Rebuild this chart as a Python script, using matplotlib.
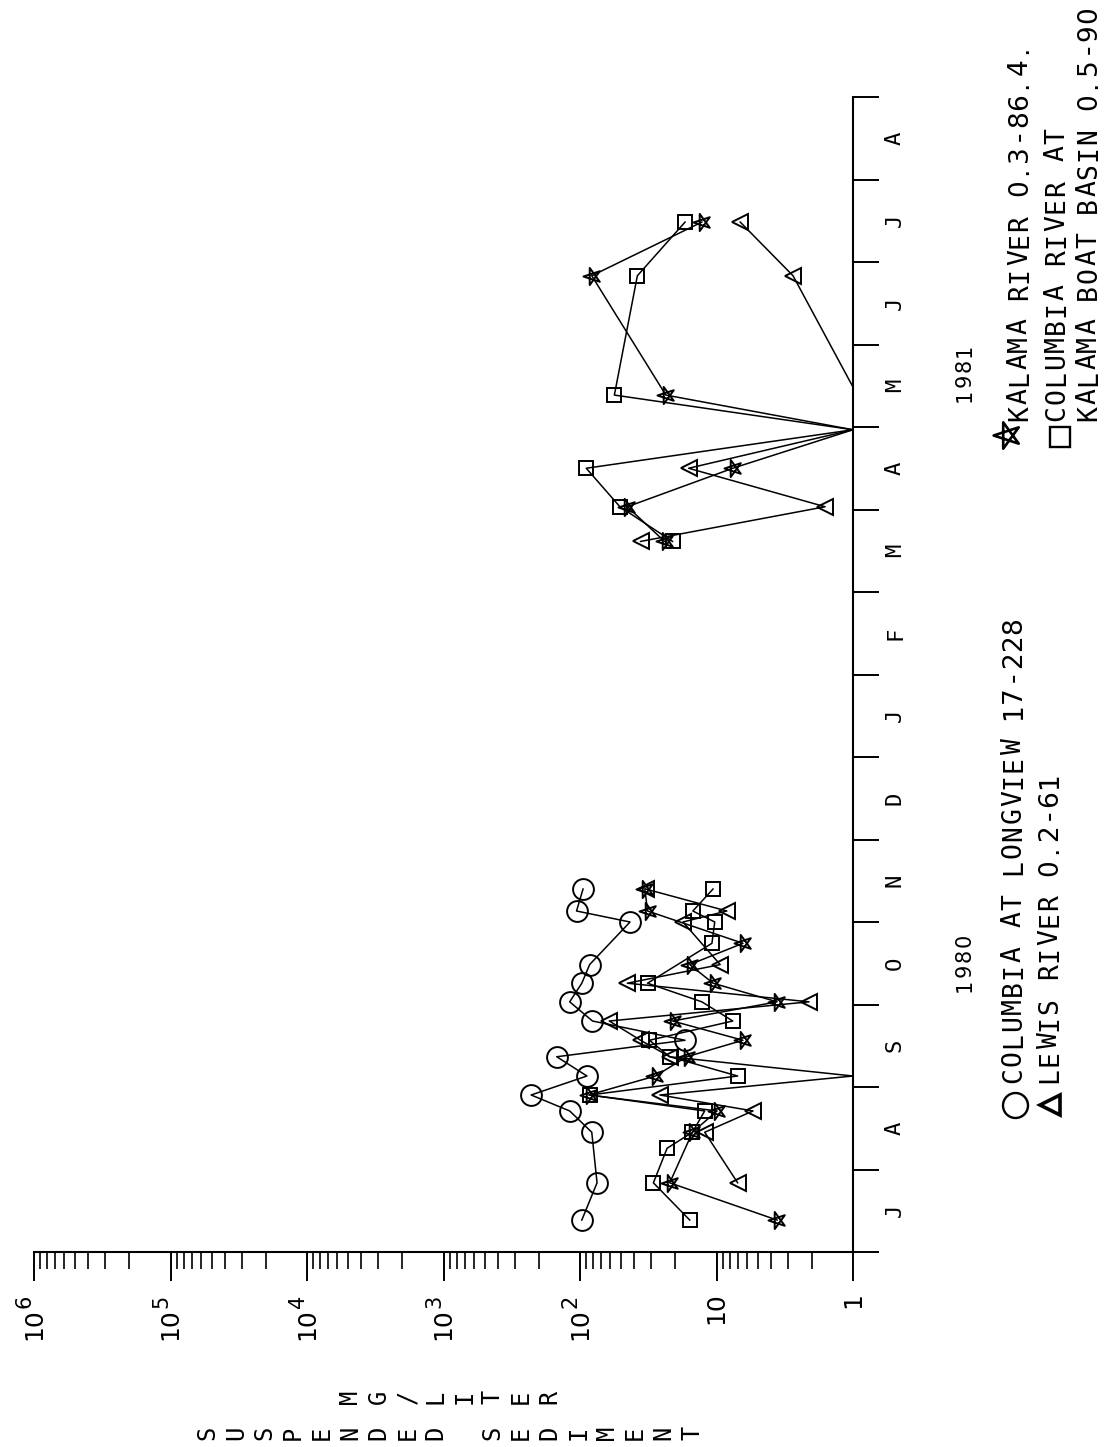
import numpy as np
import pandas as pd
import matplotlib
matplotlib.use("Agg")
import matplotlib.pyplot as plt
import matplotlib.ticker as mticker
from matplotlib import transforms
from matplotlib.path import Path
from matplotlib.lines import Line2D

# ---------------- data (suspended sediment, mg/L) ----------------
longview_dates = ["1980-07-13", "1980-07-27", "1980-08-15", "1980-08-23", "1980-08-29",
                  "1980-09-05", "1980-09-12", "1980-09-18", "1980-09-25", "1980-10-02",
                  "1980-10-09", "1980-10-16", "1980-11-01", "1980-11-05", "1980-11-13"]
longview_vals = [97, 75, 82, 119, 228, 89, 148, 17, 81, 119, 97, 85, 43, 106, 95]

lewis_dates = ["1980-07-27", "1980-08-15", "1980-08-23", "1980-08-29", "1980-09-05",
               "1980-09-12", "1980-09-18", "1980-09-25", "1980-10-02", "1980-10-09",
               "1980-10-16", "1980-11-01", "1980-11-05", "1980-11-13",
               "1981-03-20", "1981-04-02", "1981-04-16", "1981-04-30", "1981-05-16",
               "1981-06-26", "1981-07-16"]
lewis_vals = [7.0, 12.2, 5.4, 26, 0.2, 22, 36, 61, 2.1, 45, 9.4, 17.6, 8.4, 33,
              36, 1.6, 16, 0.2, 0.5, 2.75, 6.7]

kalama_dates = ["1980-07-13", "1980-07-27", "1980-08-15", "1980-08-23", "1980-08-29",
                "1980-09-05", "1980-09-12", "1980-09-18", "1980-09-25", "1980-10-02",
                "1980-10-09", "1980-10-16", "1980-10-24", "1980-11-05", "1980-11-13",
                "1981-03-20", "1981-04-02", "1981-04-16", "1981-04-30", "1981-05-13",
                "1981-06-26", "1981-07-16"]
kalama_vals = [3.6, 22, 15, 9.9, 86.4, 28, 16.5, 6.4, 21, 3.6, 10.6, 15.7, 6.4, 32, 33.5,
               24, 45, 7.6, 0.3, 23.5, 82, 12.8]

basin_dates = ["1980-07-13", "1980-07-27", "1980-08-09", "1980-08-15", "1980-08-23",
               "1980-08-29", "1980-09-05", "1980-09-12", "1980-09-18", "1980-09-25",
               "1980-10-02", "1980-10-09", "1980-10-24", "1980-11-01", "1980-11-05",
               "1980-11-13",
               "1981-03-20", "1981-04-02", "1981-04-16", "1981-04-30", "1981-05-13",
               "1981-06-26", "1981-07-16"]
basin_vals = [15.7, 29, 23, 15, 12.2, 85, 7.0, 22, 31, 7.6, 12.8, 32, 10.8, 10.3, 14.9, 10.6,
              21, 51, 90, 0.5, 56, 38, 17]

month_letters = ["J", "A", "S", "O", "N", "D", "J", "F", "M", "A", "M", "J", "J", "A"]
decade_exponents = [6, 5, 4, 3, 2, 1, 0]

# ---------------- helpers ----------------
W, H = 1110, 1447
MONO = "DejaVu Sans Mono"
SANS = "DejaVu Sans"
plt.rcParams["font.family"] = MONO

fig = plt.figure(figsize=(W / 100, H / 100), dpi=100)


def fx(px):
    return px / W


def fy(py):
    return 1 - py / H


def fam(ch):
    # plain (undotted) zero like the plotter font
    return SANS if (ch.isdigit() or ch in ".-") else MONO


def months(dates):
    d = pd.to_datetime(pd.Series(dates))
    return ((d.dt.year - 1980) * 12 + (d.dt.month - 7) + (d.dt.day - 1) / d.dt.days_in_month).to_numpy()


AX_L, AX_R, AX_T, AX_B = 34, 853, 97, 1252
ax = fig.add_axes([fx(AX_L), fy(AX_B), fx(AX_R) - fx(AX_L), fy(AX_T) - fy(AX_B)])
ax.set_xscale("log")
ax.set_xlim(1e6, 1)
ax.set_ylim(0, 14)
ax.patch.set_visible(False)

for s in ("left", "top"):
    ax.spines[s].set_visible(False)
for s in ("right", "bottom"):
    ax.spines[s].set_linewidth(1.5)

# pentagram (star polygon) pointing left, like the rotated plotter star
ang = np.deg2rad(180 + 144 * np.arange(5))
star_verts = np.column_stack([np.cos(ang), np.sin(ang)])
star_path = Path(np.vstack([star_verts, star_verts[:1]]),
                 [Path.MOVETO] + [Path.LINETO] * 4 + [Path.CLOSEPOLY])

series = [
    (longview_dates, longview_vals, "o", 15),
    (lewis_dates, lewis_vals, "<", 11),
    (kalama_dates, kalama_vals, star_path, 13),
    (basin_dates, basin_vals, "s", 10),
]

for dates, vals, mk, ms in series:
    t = months(dates)
    v = np.asarray(vals, dtype=float)
    vp = np.maximum(v, 1.0)          # values below 1 fall on the axis
    # split into the 1980 and 1981 campaigns
    breaks = np.where(np.diff(t) > 2)[0] + 1
    for seg in np.split(np.arange(len(t)), breaks):
        ax.plot(vp[seg], t[seg], color="black", lw=1.1, clip_on=False, zorder=2)
    m = v >= 1
    ax.plot(vp[m], t[m], ls="none", marker=mk, ms=ms, mfc="none", mec="black",
            mew=1.4, clip_on=False, zorder=3)

# ---------------- axes ticks ----------------
ax.xaxis.set_major_locator(mticker.LogLocator(base=10, numticks=20))
ax.xaxis.set_minor_locator(mticker.LogLocator(base=10, subs=np.arange(2, 10), numticks=200))
ax.xaxis.set_major_formatter(mticker.NullFormatter())
ax.xaxis.set_minor_formatter(mticker.NullFormatter())
ax.tick_params(axis="x", which="major", direction="out", length=21, width=1.4)
ax.tick_params(axis="x", which="minor", direction="out", length=12, width=1.2)

ax.yaxis.tick_right()
ax.set_yticks(np.arange(0, 15))
ax.yaxis.set_major_formatter(mticker.NullFormatter())
ax.tick_params(axis="y", which="major", direction="out", length=19, width=1.4)

# month letters (rotated), centred in each month
tr_month = transforms.blended_transform_factory(fig.transFigure, ax.transData)
for i, lab in enumerate(month_letters):
    fig.text(fx(895), i + 0.5, lab, transform=tr_month, rotation=90,
             ha="center", va="center", fontsize=16)

# decade labels
tr_dec = transforms.blended_transform_factory(ax.transData, fig.transFigure)
for e in decade_exponents:
    xv = 10.0 ** e
    if e >= 2:
        fig.text(xv, fy(1324), "10", transform=tr_dec, rotation=90, family=SANS,
                 ha="center", va="center", fontsize=18)
        off = transforms.offset_copy(tr_dec, fig=fig, x=-9, y=0, units="dots")
        fig.text(xv, fy(1301), str(e), transform=off, rotation=90, family=SANS,
                 ha="center", va="center", fontsize=15)
    elif e == 1:
        fig.text(xv, fy(1308), "10", transform=tr_dec, rotation=90, family=SANS,
                 ha="center", va="center", fontsize=18)
    else:
        fig.text(xv, fy(1300), "1", transform=tr_dec, rotation=90, family=SANS,
                 ha="center", va="center", fontsize=18)


# stacked axis title letters
def stacked(center_px, y_px, s, pitch, size):
    n = len(s)
    x0 = center_px - pitch * (n - 1) / 2
    for i, ch in enumerate(s):
        if ch == " ":
            continue
        fig.text(fx(x0 + i * pitch), fy(y_px), ch, rotation=90,
                 ha="center", va="center", fontsize=size)


stacked(450, 1397, "MG/LITER", 28.5, 17)
stacked(450, 1433, "SUSPENDED SEDIMENT", 28.5, 17)


# legend text, character by character (plotter pitch)
def vtext(x_px, y_start_px, s, pitch, size):
    for i, ch in enumerate(s):
        if ch == " ":
            continue
        fig.text(fx(x_px), fy(y_start_px - i * pitch), ch, rotation=90, family=fam(ch),
                 ha="center", va="center", fontsize=size)


vtext(965, 985, "1980", 15, 15)
vtext(965, 395, "1981", 15, 15)
vtext(1014, 1075, "COLUMBIA AT LONGVIEW 17-228", 17.3, 19)
vtext(1050, 1075, "LEWIS RIVER 0.2-61", 17.3, 19)
vtext(1020, 413, "KALAMA RIVER 0.3-86.4.", 17.3, 19)
vtext(1057, 413, "COLUMBIA RIVER AT", 17.3, 19)
vtext(1089, 413, "KALAMA BOAT BASIN 0.5-90", 17.3, 19)

# legend symbols
for (px, py, mk, ms, mew) in [(1015, 1105, "o", 18, 1.7), (1050, 1105, "<", 15, 2.6),
                              (1007, 435, star_path, 20, 1.9), (1060, 437, "s", 15, 1.7)]:
    fig.add_artist(Line2D([fx(px)], [fy(py)], transform=fig.transFigure, marker=mk,
                          ms=ms, mfc="none", mec="black", mew=mew, ls="none"))

fig.savefig("out.png", dpi=100, facecolor="white")
